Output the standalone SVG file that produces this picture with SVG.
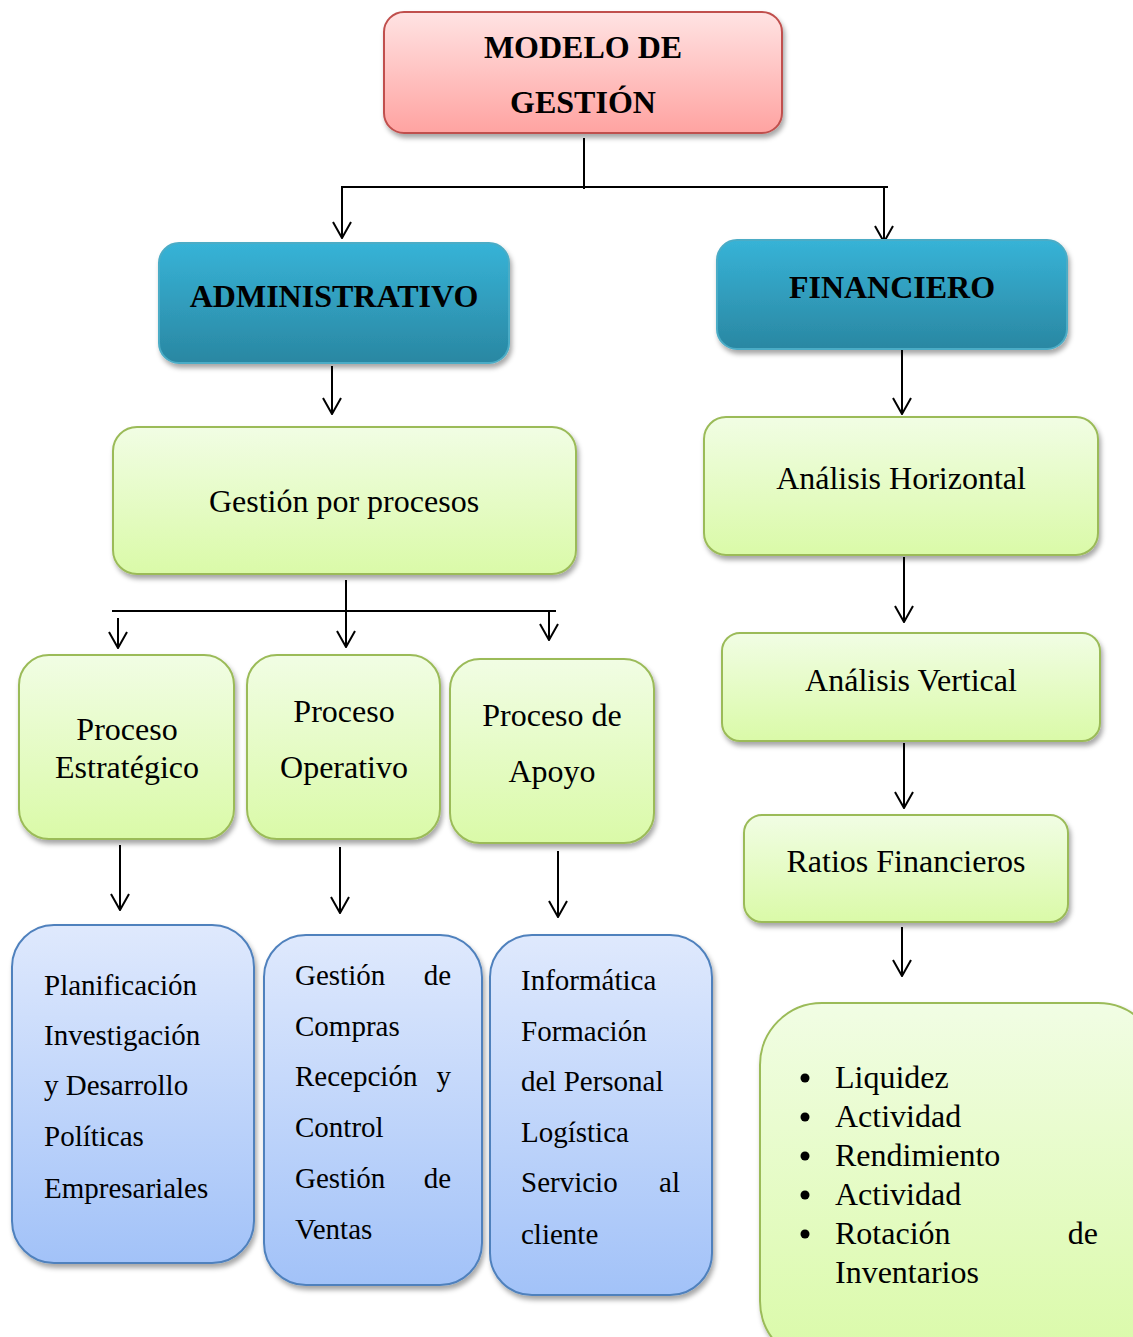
<svg xmlns="http://www.w3.org/2000/svg" width="1133" height="1337" viewBox="0 0 1133 1337">
  <defs>
    <linearGradient id="gRed" x1="0" y1="0" x2="0" y2="1">
      <stop offset="0" stop-color="#ffe3e3"/>
      <stop offset="1" stop-color="#ffa3a1"/>
    </linearGradient>
    <linearGradient id="gTeal" x1="0" y1="0" x2="0" y2="1">
      <stop offset="0" stop-color="#37b3d7"/>
      <stop offset="1" stop-color="#2a87a2"/>
    </linearGradient>
    <linearGradient id="gGreen" x1="0" y1="0" x2="0" y2="1">
      <stop offset="0" stop-color="#f1fde4"/>
      <stop offset="1" stop-color="#dafaa8"/>
    </linearGradient>
    <linearGradient id="gBlue" x1="0" y1="0" x2="0" y2="1">
      <stop offset="0" stop-color="#dfe9fd"/>
      <stop offset="1" stop-color="#a2c2f8"/>
    </linearGradient>
    <filter id="shadow" x="-10%" y="-10%" width="125%" height="130%">
      <feDropShadow dx="2" dy="4" stdDeviation="2.5" flood-color="#000" flood-opacity="0.35"/>
    </filter>
    <!-- open V arrowhead, drawn along +x so orient="auto" points it down the line -->
    <marker id="arrow" viewBox="0 0 20 20" refX="19" refY="10" markerWidth="20" markerHeight="20" markerUnits="userSpaceOnUse" orient="auto">
      <path d="M3,1 L19,10 L3,19" fill="none" stroke="#000" stroke-width="2"/>
    </marker>
    <style>
      .box { filter: url(#shadow); stroke-width: 2; }
      .red { fill: url(#gRed); stroke: #c0504d; }
      .teal { fill: url(#gTeal); stroke: #4bacc6; }
      .green { fill: url(#gGreen); stroke: #9bbb59; }
      .blue { fill: url(#gBlue); stroke: #4f81bd; }
      .t { font-family: "Liberation Serif", "Times New Roman", serif; fill: #000; }
      .title { font-size: 32px; font-weight: bold; text-anchor: middle; }
      .mid { font-size: 32px; text-anchor: middle; }
      .list { font-size: 29px; }
      .bul { font-size: 32px; }
      .line { stroke: #000; stroke-width: 2; fill: none; }
      .arr { stroke: #000; stroke-width: 2; fill: none; marker-end: url(#arrow); }
    </style>
  </defs>

  <g id="connectors">
    <!-- root split -->
    <line class="line" x1="584" y1="138" x2="584" y2="189"/>
    <line class="line" x1="341" y1="187" x2="888" y2="187"/>
    <line class="arr" x1="342" y1="187" x2="342" y2="238"/>
    <line class="arr" x1="884" y1="187" x2="884" y2="242"/>
    <!-- administrative branch -->
    <line class="arr" x1="332" y1="366" x2="332" y2="414"/>
    <line class="line" x1="112" y1="611" x2="556" y2="611"/>
    <line class="arr" x1="346" y1="580" x2="346" y2="647"/>
    <line class="arr" x1="118" y1="618" x2="118" y2="648"/>
    <line class="arr" x1="549" y1="611" x2="549" y2="640"/>
    <line class="arr" x1="120" y1="845" x2="120" y2="910"/>
    <line class="arr" x1="340" y1="847" x2="340" y2="913"/>
    <line class="arr" x1="558" y1="851" x2="558" y2="917"/>
    <!-- financial branch -->
    <line class="arr" x1="902" y1="349" x2="902" y2="414"/>
    <line class="arr" x1="904" y1="557" x2="904" y2="622"/>
    <line class="arr" x1="904" y1="743" x2="904" y2="808"/>
    <line class="arr" x1="902" y1="927" x2="902" y2="976"/>
  </g>

  <g id="modelo">
    <rect class="box red" x="384" y="12" width="398" height="121" rx="20"/>
    <text class="t title" x="583" y="58">MODELO DE</text>
    <text class="t title" x="583" y="113">GESTIÓN</text>
  </g>

  <g id="administrativo">
    <rect class="box teal" x="159" y="243" width="350" height="120" rx="20"/>
    <text class="t title" x="334" y="307">ADMINISTRATIVO</text>
  </g>

  <g id="financiero">
    <rect class="box teal" x="717" y="240" width="350" height="109" rx="20"/>
    <text class="t title" x="892" y="298">FINANCIERO</text>
  </g>

  <g id="gestion-procesos">
    <rect class="box green" x="113" y="427" width="463" height="147" rx="24"/>
    <text class="t mid" x="344" y="512">Gestión por procesos</text>
  </g>

  <g id="proceso-estrategico">
    <rect class="box green" x="19" y="655" width="215" height="184" rx="30"/>
    <text class="t mid" x="127" y="740">Proceso</text>
    <text class="t mid" x="127" y="778">Estratégico</text>
  </g>

  <g id="proceso-operativo">
    <rect class="box green" x="247" y="655" width="193" height="184" rx="30"/>
    <text class="t mid" x="344" y="722">Proceso</text>
    <text class="t mid" x="344" y="778">Operativo</text>
  </g>

  <g id="proceso-apoyo">
    <rect class="box green" x="450" y="659" width="204" height="184" rx="30"/>
    <text class="t mid" x="552" y="726">Proceso de</text>
    <text class="t mid" x="552" y="782">Apoyo</text>
  </g>

  <g id="estrategico-detalle">
    <rect class="box blue" x="12" y="925" width="242" height="338" rx="42"/>
    <text class="t list" x="44" y="995">Planificación</text>
    <text class="t list" x="44" y="1045">Investigación</text>
    <text class="t list" x="44" y="1095">y Desarrollo</text>
    <text class="t list" x="44" y="1146">Políticas</text>
    <text class="t list" x="44" y="1198">Empresariales</text>
  </g>

  <g id="operativo-detalle">
    <rect class="box blue" x="264" y="935" width="218" height="350" rx="42"/>
    <text class="t list" x="295" y="985">Gestión</text>
    <text class="t list" x="451" y="985" text-anchor="end">de</text>
    <text class="t list" x="295" y="1036">Compras</text>
    <text class="t list" x="295" y="1086">Recepción</text>
    <text class="t list" x="451" y="1086" text-anchor="end">y</text>
    <text class="t list" x="295" y="1137">Control</text>
    <text class="t list" x="295" y="1188">Gestión</text>
    <text class="t list" x="451" y="1188" text-anchor="end">de</text>
    <text class="t list" x="295" y="1239">Ventas</text>
  </g>

  <g id="apoyo-detalle">
    <rect class="box blue" x="490" y="935" width="222" height="360" rx="42"/>
    <text class="t list" x="521" y="990">Informática</text>
    <text class="t list" x="521" y="1041">Formación</text>
    <text class="t list" x="521" y="1091">del Personal</text>
    <text class="t list" x="521" y="1142">Logística</text>
    <text class="t list" x="521" y="1192">Servicio</text>
    <text class="t list" x="680" y="1192" text-anchor="end">al</text>
    <text class="t list" x="521" y="1244">cliente</text>
  </g>

  <g id="analisis-horizontal">
    <rect class="box green" x="704" y="417" width="394" height="138" rx="22"/>
    <text class="t mid" x="901" y="489">Análisis Horizontal</text>
  </g>

  <g id="analisis-vertical">
    <rect class="box green" x="722" y="633" width="378" height="108" rx="18"/>
    <text class="t mid" x="911" y="691">Análisis Vertical</text>
  </g>

  <g id="ratios">
    <rect class="box green" x="744" y="815" width="324" height="107" rx="18"/>
    <text class="t mid" x="906" y="872">Ratios Financieros</text>
  </g>

  <g id="tipos-ratios">
    <rect class="box green" x="760" y="1003" width="400" height="360" rx="62"/>
    <g class="t bul">
      <circle cx="805" cy="1078" r="4.5"/>
      <text x="835" y="1088">Liquidez</text>
      <circle cx="805" cy="1117" r="4.5"/>
      <text x="835" y="1127">Actividad</text>
      <circle cx="805" cy="1156" r="4.5"/>
      <text x="835" y="1166">Rendimiento</text>
      <circle cx="805" cy="1195" r="4.5"/>
      <text x="835" y="1205">Actividad</text>
      <circle cx="805" cy="1234" r="4.5"/>
      <text x="835" y="1244">Rotación</text>
      <text x="1098" y="1244" text-anchor="end">de</text>
      <text x="835" y="1283">Inventarios</text>
    </g>
  </g>
</svg>
